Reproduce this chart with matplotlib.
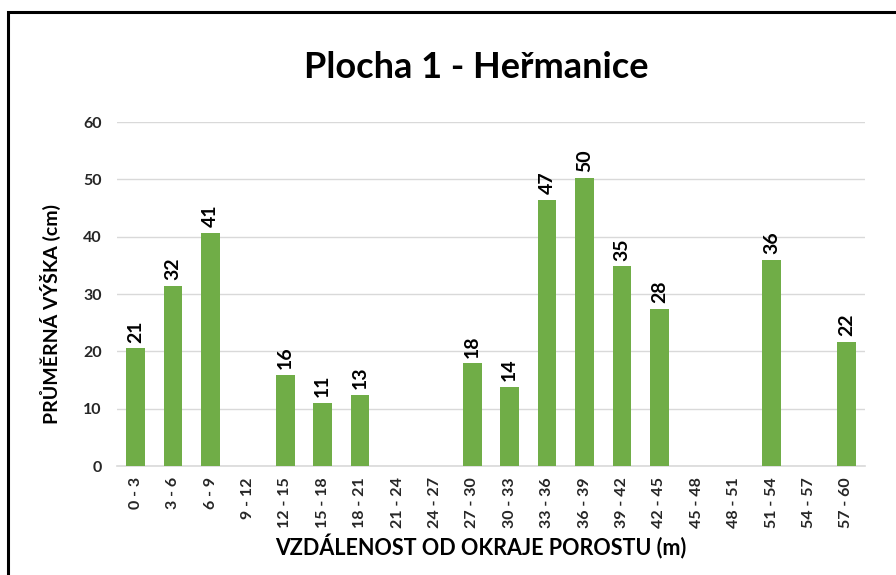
import matplotlib.pyplot as plt
from matplotlib.patches import Rectangle

categories = ['0 - 3', '3 - 6', '6 - 9', '9 - 12', '12 - 15', '15 - 18', '18 - 21',
              '21 - 24', '24 - 27', '27 - 30', '30 - 33', '33 - 36', '36 - 39',
              '39 - 42', '42 - 45', '45 - 48', '48 - 51', '51 - 54', '54 - 57', '57 - 60']
heights = [20.5, 31.4, 40.7, 0, 15.9, 11.0, 12.4, 0, 0, 17.9, 13.8, 46.4,
           50.2, 34.8, 27.4, 0, 0, 35.9, 0, 21.7]
labels = ['21', '32', '41', '', '16', '11', '13', '', '', '18', '14', '47',
          '50', '35', '28', '', '', '36', '', '22']
yticks = [0, 10, 20, 30, 40, 50, 60]

plt.rcParams['font.family'] = ['Lato', 'DejaVu Sans']

fig = plt.figure(figsize=(8.96, 5.75), dpi=100)
ax = fig.add_axes([117/896, 1 - 466/575, (865 - 117)/896, (466 - 122)/575])

x = range(len(categories))
ax.bar(x, heights, width=0.5, color='#70ad47', zorder=3)
for i, (h, lab) in enumerate(zip(heights, labels)):
    if lab:
        ax.text(i, h + 1.0, lab, rotation=90, ha='center', va='bottom',
                fontsize=14, fontweight='bold', color='black')

ax.set_xlim(-0.5, len(categories) - 0.5)
ax.set_ylim(0, 60)
ax.set_yticks(yticks)
ax.set_yticklabels([str(v) for v in yticks], fontsize=11.5, fontweight='bold',
                   color='#262626')
ax.set_xticks(list(x))
ax.set_xticklabels(categories, rotation=90, fontsize=11.5, fontweight='bold',
                   color='#262626')
ax.tick_params(axis='y', length=0, pad=11)
ax.tick_params(axis='x', length=0, pad=8)
ax.grid(axis='y', color='#d9d9d9', linewidth=1, zorder=0)
for s in ['top', 'right', 'left']:
    ax.spines[s].set_visible(False)
ax.spines['bottom'].set_color('#d9d9d9')
ax.spines['bottom'].set_linewidth(1.2)

fig.text(476/896, 1 - 68/575, 'Plocha 1 - Heřmanice', ha='center', va='center',
         fontsize=26, fontweight='bold')
fig.text(50/896, 1 - 314/575, 'PRŮMĚRNÁ VÝŠKA (cm)', rotation=90, ha='center',
         va='center', fontsize=14, fontweight='bold')
fig.text(481/896, 1 - 547/575, 'VZDÁLENOST OD OKRAJE POROSTU (m)', ha='center',
         va='center', fontsize=15.5, fontweight='bold')

fig.patches.append(Rectangle((8/896, -0.1), 1.2, 1.1 - 12/575, transform=fig.transFigure,
                             fill=False, edgecolor='black', linewidth=2.2))

fig.savefig('out.png', dpi=100)
